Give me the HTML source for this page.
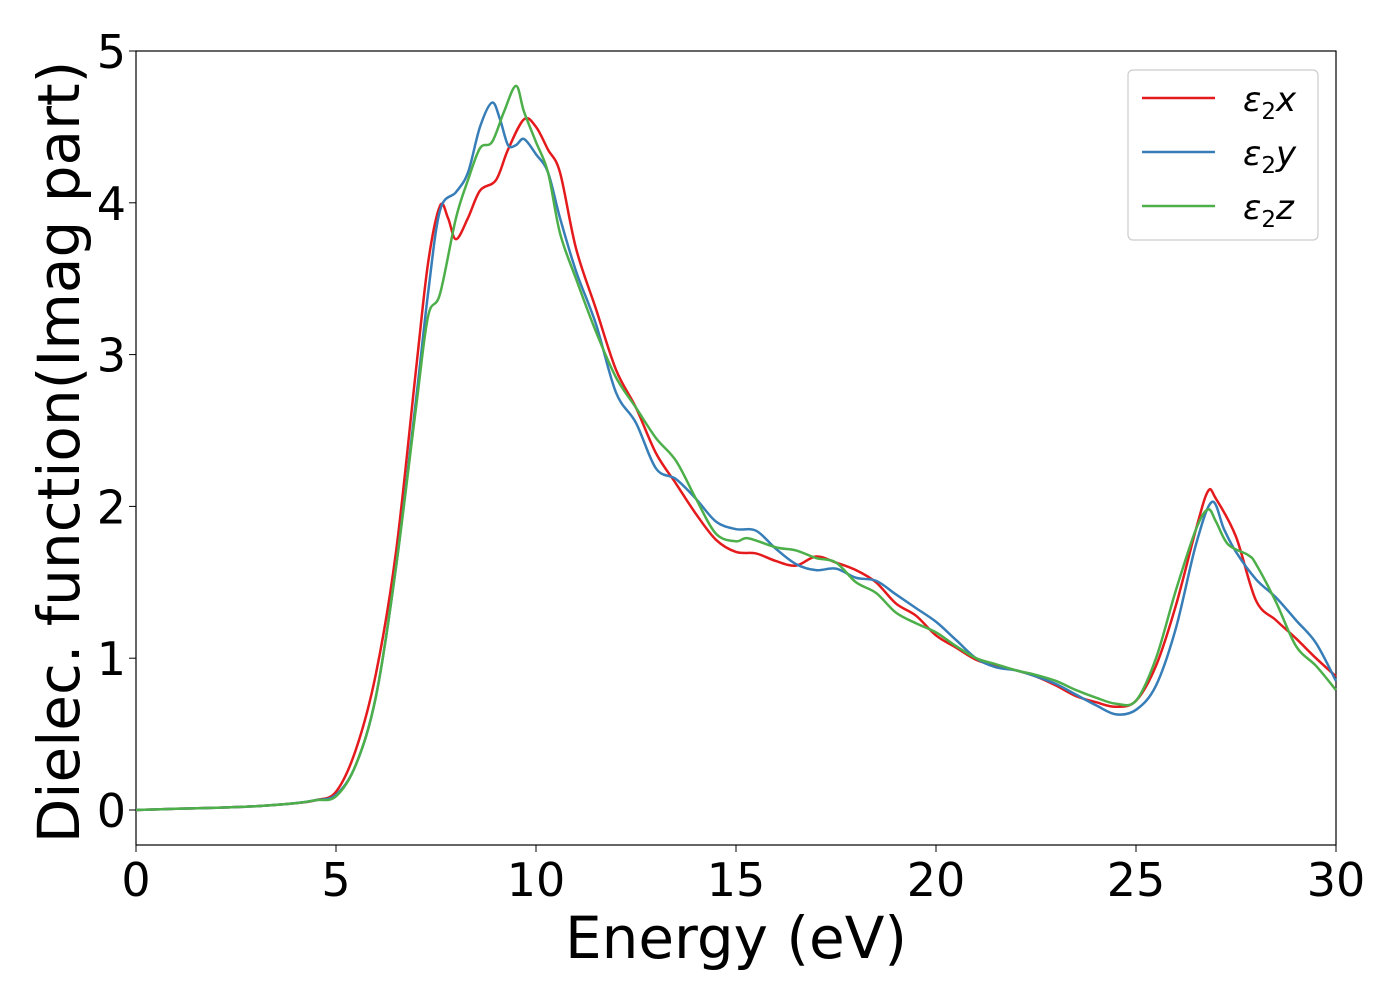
<!DOCTYPE html>
<html><head><meta charset="utf-8"><style>
html,body{margin:0;padding:0;background:#fff;}
svg{display:block;font-family:"DejaVu Sans","Liberation Sans",sans-serif;}
</style></head><body>
<svg id="chart" width="1400" height="1000" viewBox="0 0 1400 1000">
<rect x="136" y="51" width="1200" height="794" fill="#fff" stroke="#000" stroke-width="1.2"/>
<g id="curves"></g>
<g id="xticks"></g>
<g id="yticks"></g>
<text x="736" y="958" font-size="58" text-anchor="middle">Energy (eV)</text>
<text transform="translate(79,452) rotate(-90)" font-size="58" text-anchor="middle">Dielec. function(Imag part)</text>
<g>
<rect x="1128" y="70" width="190" height="170" rx="5" fill="#fff" stroke="#ccc" stroke-width="1.2"/>
<g><line x1="1142" y1="98" x2="1215" y2="98" stroke="#e41a1c" stroke-width="2.5"/><text x="1243" y="111" font-size="34" font-style="italic">ε<tspan font-size="23" dy="8" font-style="normal">2</tspan><tspan dy="-8">x</tspan></text></g>
<g><line x1="1142" y1="152" x2="1215" y2="152" stroke="#377eb8" stroke-width="2.5"/><text x="1243" y="165" font-size="34" font-style="italic">ε<tspan font-size="23" dy="8" font-style="normal">2</tspan><tspan dy="-8">y</tspan></text></g>
<g><line x1="1142" y1="206" x2="1215" y2="206" stroke="#4daf4a" stroke-width="2.5"/><text x="1243" y="219" font-size="34" font-style="italic">ε<tspan font-size="23" dy="8" font-style="normal">2</tspan><tspan dy="-8">z</tspan></text></g>
</g>
</svg>
<script>
const xTicks=[0,5,10,15,20,25,30];
const yTicks=[0,1,2,3,4,5];
const low=[[0,0],[1,0.008],[2,0.015],[3,0.025],[4,0.045],[4.5,0.065]];
const seriesX=[...low,[5,0.12],[5.5,0.4],[6,0.9],[6.5,1.7],[7,2.9],[7.3,3.6],[7.6,3.98],[7.8,3.9],[8,3.76],[8.3,3.9],[8.6,4.08],[9,4.15],[9.3,4.35],[9.7,4.55],[10,4.5],[10.3,4.35],[10.6,4.2],[11,3.7],[11.5,3.3],[12,2.9],[12.5,2.65],[13,2.35],[13.5,2.15],[14,1.95],[14.5,1.78],[15,1.7],[15.5,1.69],[16,1.64],[16.5,1.61],[17,1.67],[17.5,1.63],[18,1.58],[18.5,1.5],[19,1.36],[19.5,1.28],[20,1.15],[20.5,1.07],[21,0.99],[21.5,0.95],[22,0.92],[22.5,0.88],[23,0.82],[23.5,0.75],[24,0.71],[24.5,0.68],[25,0.72],[25.5,0.95],[26,1.35],[26.5,1.85],[26.8,2.1],[27,2.05],[27.5,1.8],[28,1.38],[28.5,1.25],[29,1.13],[29.5,1.0],[30,0.88]];
const seriesY=[...low,[5,0.1],[5.5,0.3],[6,0.75],[6.5,1.6],[7,2.7],[7.3,3.4],[7.6,3.95],[8,4.07],[8.3,4.2],[8.6,4.5],[8.9,4.66],[9.1,4.55],[9.3,4.38],[9.5,4.38],[9.7,4.42],[10,4.32],[10.3,4.2],[10.6,3.9],[11,3.55],[11.5,3.2],[12,2.75],[12.5,2.55],[13,2.25],[13.5,2.18],[14,2.05],[14.5,1.9],[15,1.85],[15.5,1.84],[16,1.72],[16.5,1.62],[17,1.58],[17.5,1.59],[18,1.53],[18.5,1.51],[19,1.42],[19.5,1.33],[20,1.24],[20.5,1.12],[21,1.0],[21.5,0.94],[22,0.92],[22.5,0.88],[23,0.83],[23.5,0.76],[24,0.69],[24.5,0.63],[25,0.66],[25.5,0.82],[26,1.2],[26.5,1.75],[26.9,2.03],[27.2,1.85],[27.5,1.7],[28,1.52],[28.5,1.4],[29,1.25],[29.5,1.1],[30,0.85]];
const seriesZ=[...low,[5,0.09],[5.5,0.3],[6,0.75],[6.5,1.6],[7,2.65],[7.3,3.25],[7.6,3.4],[8,3.9],[8.3,4.15],[8.6,4.36],[8.9,4.4],[9.2,4.6],[9.5,4.77],[9.7,4.6],[10,4.4],[10.3,4.2],[10.6,3.8],[11,3.5],[11.5,3.15],[12,2.85],[12.5,2.65],[13,2.45],[13.5,2.3],[14,2.05],[14.5,1.82],[15,1.77],[15.3,1.79],[16,1.73],[16.5,1.71],[17,1.66],[17.5,1.63],[18,1.5],[18.5,1.43],[19,1.3],[19.5,1.23],[20,1.17],[20.5,1.08],[21,1.0],[21.5,0.96],[22,0.92],[22.5,0.89],[23,0.85],[23.5,0.79],[24,0.74],[24.5,0.7],[25,0.72],[25.5,1.0],[26,1.45],[26.5,1.85],[26.8,1.98],[27,1.9],[27.3,1.75],[27.8,1.68],[28,1.62],[28.5,1.37],[29,1.08],[29.5,0.95],[30,0.79]];
const NS="http://www.w3.org/2000/svg";
const xs=v=>136+v*40, ys=v=>810-v*151.8;
function path(pts){
  const p=pts.map(d=>[xs(d[0]),ys(d[1])]);
  let s="M"+p[0][0]+","+p[0][1];
  for(let i=0;i<p.length-1;i++){
    const p0=p[i-1]||p[i],p1=p[i],p2=p[i+1],p3=p[i+2]||p2;
    s+=" C"+(p1[0]+(p2[0]-p0[0])/6)+","+(p1[1]+(p2[1]-p0[1])/6)+" "+(p2[0]-(p3[0]-p1[0])/6)+","+(p2[1]-(p3[1]-p1[1])/6)+" "+p2[0]+","+p2[1];
  }
  return s;
}
const cg=document.getElementById("curves");
[[seriesX,"#e41a1c","line-eps2x"],[seriesY,"#377eb8","line-eps2y"],[seriesZ,"#4daf4a","line-eps2z"]].forEach(s=>{
  const el=document.createElementNS(NS,"path");
  el.setAttribute("d",path(s[0]));el.setAttribute("fill","none");el.setAttribute("stroke",s[1]);el.setAttribute("stroke-width","2.5");
  
  
  cg.appendChild(el);
});
const xg=document.getElementById("xticks");
xTicks.forEach(v=>{
  const l=document.createElementNS(NS,"line");
  l.setAttribute("x1",xs(v));l.setAttribute("x2",xs(v));l.setAttribute("y1",845);l.setAttribute("y2",852);l.setAttribute("stroke","#000");
  
  
  xg.appendChild(l);
  const t=document.createElementNS(NS,"text");
  t.setAttribute("x",xs(v));t.setAttribute("y",896);t.setAttribute("font-size","46");t.setAttribute("text-anchor","middle");t.textContent=v;
  
  
  xg.appendChild(t);
});
const yg=document.getElementById("yticks");
yTicks.forEach(v=>{
  const l=document.createElementNS(NS,"line");
  l.setAttribute("x1",129);l.setAttribute("x2",136);l.setAttribute("y1",ys(v));l.setAttribute("y2",ys(v));l.setAttribute("stroke","#000");
  
  
  yg.appendChild(l);
  const t=document.createElementNS(NS,"text");
  t.setAttribute("x",126);t.setAttribute("y",ys(v)+17);t.setAttribute("font-size","46");t.setAttribute("text-anchor","end");t.textContent=v;
  
  
  yg.appendChild(t);
});
</script>
</body></html>
